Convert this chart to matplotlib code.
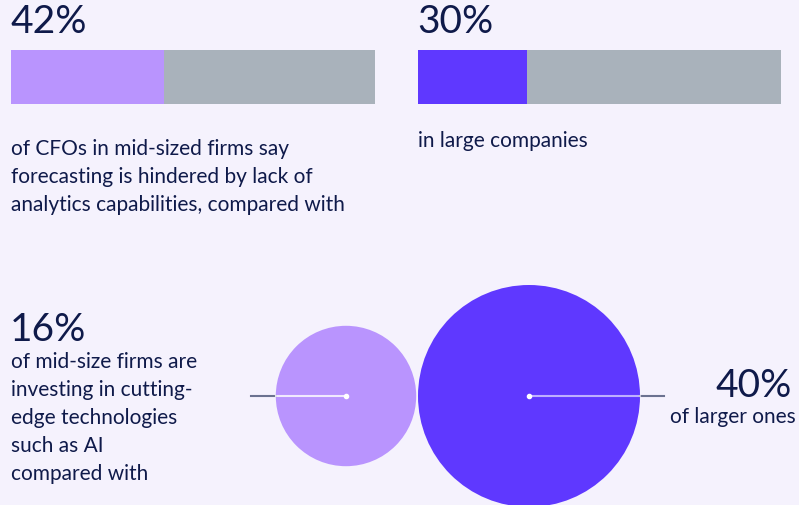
import numpy as np
import matplotlib.pyplot as plt
from matplotlib.patches import Circle

# shares of CFOs citing lack of analytics capabilities
bar_values = [42, 30]
bar_labels = ["42%", "30%"]
bar_colors = ["#b994fe", "#5f38ff"]
bar_captions = [
    ["of CFOs in mid-sized firms say",
     "forecasting is hindered by lack of",
     "analytics capabilities, compared with"],
    ["in large companies"],
]

# shares investing in cutting-edge technologies
circle_values = [16, 40]
circle_labels = ["16%", "40%"]
circle_colors = ["#b994fe", "#5f38ff"]
circle_captions = [
    ["of mid-size firms are", "investing in cutting-", "edge technologies",
     "such as AI", "compared with"],
    ["of larger ones"],
]

BG = "#f5f2fd"
NAVY = "#0f1a4a"
GREY = "#a9b2bb"
FONT = ["Lato", "DejaVu Sans"]
NUM_SIZE = 28
TXT_SIZE = 15

fig = plt.figure(figsize=(7.99, 5.06), dpi=100, facecolor=BG)
ax = fig.add_axes([0, 0, 1, 1])
ax.set_xlim(0, 799)
ax.set_ylim(506, 0)
ax.set_facecolor(BG)
ax.axis("off")

# --- bars ---
bar_x0 = [11, 418]
bar_w = [364, 363]
for i, v in enumerate(bar_values):
    scale = bar_w[i] / 100
    ax.barh(77.5, 100 * scale, height=54, left=bar_x0[i], color=GREY)
    ax.barh(77.5, v * scale, height=54, left=bar_x0[i], color=bar_colors[i])
    ax.text(bar_x0[i] - 1, 33, bar_labels[i], fontsize=NUM_SIZE,
            family=FONT, color=NAVY, va="baseline", ha="left")

cap_base = [155, 147]
for i, lines in enumerate(bar_captions):
    for j, line in enumerate(lines):
        ax.text(bar_x0[i], cap_base[i] + 28 * j, line, fontsize=TXT_SIZE,
                family=FONT, color=NAVY, va="baseline", ha="left")

# --- circles, area proportional to value ---
k = 111 / np.sqrt(40)
cx = [346, 529]
cy = 397
radii = [k * np.sqrt(v) for v in circle_values]
for i, v in enumerate(circle_values):
    ax.add_patch(Circle((cx[i], cy), radii[i], color=circle_colors[i], lw=0, zorder=2))

# leader lines: dark outside the circle, white inside
ax.plot([251, cx[0] - radii[0]], [cy, cy], color="#6b7290", lw=1.5, zorder=3)
ax.plot([cx[0] - radii[0], cx[0]], [cy, cy], color="white", lw=1.5, alpha=0.8, zorder=3)
ax.plot([cx[0]], [cy], "o", color="white", ms=3, zorder=4)
ax.plot([cx[1] + radii[1], 664], [cy, cy], color="#6b7290", lw=1.5, zorder=3)
ax.plot([cx[1], cx[1] + radii[1]], [cy, cy], color="white", lw=1.5, alpha=0.6, zorder=3)
ax.plot([cx[1]], [cy], "o", color="white", ms=3, zorder=4)

ax.text(10, 341, circle_labels[0], fontsize=NUM_SIZE,
        family=FONT, color=NAVY, va="baseline", ha="left")
for j, line in enumerate(circle_captions[0]):
    ax.text(11, 368 + 28 * j, line, fontsize=TXT_SIZE, family=FONT, color=NAVY,
            va="baseline", ha="left")

ax.text(792, 397, circle_labels[1], fontsize=NUM_SIZE,
        family=FONT, color=NAVY, va="baseline", ha="right")
ax.text(796, 423, circle_captions[1][0], fontsize=TXT_SIZE, family=FONT, color=NAVY,
        va="baseline", ha="right")

fig.savefig("out.png", dpi=100, facecolor=BG)
